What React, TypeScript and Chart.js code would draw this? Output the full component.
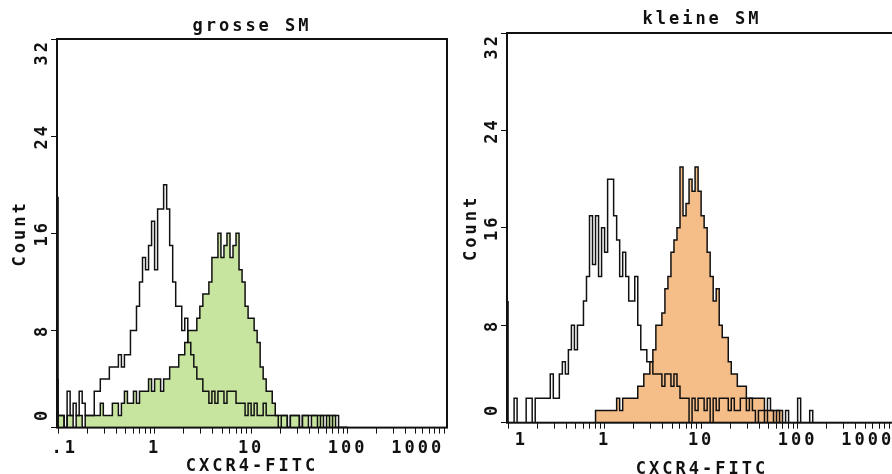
import React, { useEffect, useRef } from "react";
import { Chart, registerables } from "chart.js";

Chart.register(...registerables);

// ------------------------------------------------------------------
// Data
// ------------------------------------------------------------------
const CHANNELS_PER_DECADE = 32; // histogram bins per decade of the log axis
const FIRST_CHANNEL = 0.1; // left edge of bin 0
const X_MIN = 0.0975;
const X_MAX = 1070;

const DECADE_TICKS = [0.1, 1, 10, 100, 1000];
const MINOR_MULTIPLIERS = [1, 2, 3, 4, 5, 6, 7, 8, 9];
const LEFT_X_LABELS = [".1", "1", "10", "100", "1000"];
const RIGHT_X_LABELS = ["1", "1", "10", "100", "1000"];
const Y_TICKS = [0, 8, 16, 24, 32];
const Y_LABELS = ["0", "8", "16", "24", "32"];

const LEFT_TITLE = "grosse SM";
const RIGHT_TITLE = "kleine SM";
const X_TITLE = "CXCR4-FITC";
const Y_TITLE = "Count";

// left panel "grosse SM": isotype control (open) and CXCR4 (green filled)
const LEFT_CONTROL = [
  19, 1, 1, 0, 3, 1, 2, 1, 3, 2, 1, 1, 1, 3, 3, 4,
  4, 4, 5, 5, 5, 6, 5, 6, 6, 8, 8, 10, 12, 14, 13, 15,
  17, 13, 18, 18, 20, 18, 15, 12, 10, 10, 8, 9, 7, 6, 5, 4,
  4, 3, 3, 2, 3, 2, 3, 3, 2, 3, 3, 3, 2, 2, 2, 1,
  2, 1, 2, 1, 1, 2, 1, 1, 1, 1, 0, 1, 1, 0, 1, 1,
  1, 0, 1, 1, 1, 1, 1, 0, 1, 1, 1, 0, 1, 1, 0, 0,
];
const LEFT_STAINED = [
  4, 1, 1, 0, 1, 1, 0, 1, 1, 0, 1, 1, 1, 1, 1, 2,
  1, 1, 1, 2, 2, 1, 2, 3, 2, 2, 3, 2, 3, 3, 3, 4,
  3, 4, 4, 3, 4, 4, 5, 5, 5, 6, 6, 7, 8, 8, 8, 9,
  10, 11, 11, 12, 14, 14, 16, 14, 15, 16, 14, 15, 16, 13, 12, 10,
  9, 9, 8, 7, 5, 4, 3, 3, 2, 1, 1, 1, 1, 0, 1, 1,
  1, 0, 1, 1, 0, 1, 1, 1, 1, 0, 1, 1, 1, 0, 0, 0,
];

// right panel "kleine SM": isotype control (open) and CXCR4 (orange filled)
const RIGHT_CONTROL = [
  10, 0, 0, 2, 0, 0, 0, 2, 2, 0, 2, 2, 2, 2, 2, 4,
  2, 2, 4, 5, 4, 6, 8, 6, 8, 8, 10, 12, 17, 13, 17, 12,
  16, 14, 20, 20, 17, 15, 12, 14, 12, 10, 10, 12, 8, 6, 6, 5,
  5, 4, 4, 4, 3, 4, 4, 3, 4, 3, 2, 2, 2, 0, 2, 1,
  2, 2, 1, 2, 0, 2, 1, 2, 2, 2, 1, 2, 1, 1, 2, 2,
  1, 2, 1, 0, 1, 1, 0, 2, 1, 0, 1, 0, 0, 1, 0, 0,
  0, 2, 0, 0, 0, 1, 0, 0,
];
const RIGHT_STAINED = [
  0, 0, 0, 0, 0, 0, 0, 0, 0, 0, 0, 0, 0, 0, 0, 0,
  0, 0, 0, 0, 0, 0, 0, 0, 0, 0, 0, 0, 0, 0, 1, 1,
  1, 1, 1, 1, 1, 2, 1, 2, 2, 2, 2, 2, 3, 3, 4, 4,
  5, 6, 8, 8, 9, 11, 12, 14, 15, 16, 21, 17, 18, 20, 19, 21,
  19, 17, 16, 14, 12, 10, 11, 8, 7, 7, 5, 4, 4, 3, 3, 3,
  2, 2, 2, 2, 2, 2, 1, 1, 1, 1, 1, 1, 0, 0, 0, 0,
  0, 0, 0, 0, 0, 0, 0, 0,
];

// ------------------------------------------------------------------
// Styling / layout
// ------------------------------------------------------------------
const INK = "#111111";
const FONT_FAMILY = '"DejaVu Sans Mono", "Liberation Mono", monospace';
const FONT = { family: FONT_FAMILY, size: 17, weight: "bold" as const };
const CANVAS_W = 450;
const CANVAS_H = 474;

type PanelSpec = {
  title: string;
  xLabels: string[];
  xLabelPad: [number, number][];
  control: number[];
  stained: number[];
  fill: string;
  titleTop: number;
  titleBottom: number;
  xAxisHeight: number;
  xTickPadding: number;
  xTitlePadBottom: number;
  yTitlePadTop: number;
};

const Y_LABEL_PAD: [number, number][] = [
  [2, 0],
  [0, 0],
  [0, 0],
  [0, 0],
  [0, 2],
];

function padLabel(text: string, p: [number, number]) {
  return " ".repeat(p[0]) + text + " ".repeat(p[1]);
}

function binEdge(i: number) {
  return FIRST_CHANNEL * Math.pow(10, i / CHANNELS_PER_DECADE);
}

function toSteps(values: number[]) {
  const pts = [{ x: FIRST_CHANNEL, y: 0 }];
  values.forEach((v, i) => pts.push({ x: binEdge(i), y: v }));
  pts.push({ x: binEdge(values.length), y: 0 });
  return pts;
}

const X_TICK_VALUES = DECADE_TICKS.flatMap((d) =>
  MINOR_MULTIPLIERS.map((m) => m * d)
).filter((v) => v >= X_MIN && v <= X_MAX);

const spacingPlugin = {
  id: "monoSpacing",
  beforeUpdate(chart: any) {
    chart.ctx.letterSpacing = "3px";
  },
  beforeDraw(chart: any) {
    chart.ctx.letterSpacing = "3px";
  },
};

const framePlugin = {
  id: "frame",
  afterDatasetsDraw(chart: any) {
    const { ctx, chartArea } = chart;
    const { left, top, right, bottom } = chartArea;
    ctx.save();
    ctx.strokeStyle = INK;
    ctx.lineWidth = 2;
    ctx.strokeRect(left, top, right - left, bottom - top);
    ctx.restore();
  },
};

function buildConfig(p: PanelSpec): any {
  return {
    type: "line",
    data: {
      datasets: [
        {
          label: "control",
          data: toSteps(p.control),
          stepped: "after",
          borderColor: INK,
          borderWidth: 1.5,
          pointRadius: 0,
          fill: false,
        },
        {
          label: "CXCR4",
          data: toSteps(p.stained),
          stepped: "after",
          borderColor: INK,
          borderWidth: 1.5,
          pointRadius: 0,
          fill: "origin",
          backgroundColor: p.fill,
        },
      ],
    },
    options: {
      responsive: false,
      animation: false,
      layout: { padding: { left: 0, right: 3, top: 0, bottom: 0 } },
      plugins: {
        legend: { display: false },
        tooltip: { enabled: false },
        title: {
          display: true,
          text: p.title,
          fullSize: false,
          color: INK,
          font: { ...FONT, lineHeight: 1 },
          padding: { top: p.titleTop, bottom: p.titleBottom },
        },
      },
      scales: {
        x: {
          type: "logarithmic",
          min: X_MIN,
          max: X_MAX,
          afterBuildTicks(scale: any) {
            scale.ticks = X_TICK_VALUES.map((v) => ({ value: v }));
          },
          afterFit(scale: any) {
            scale.height = p.xAxisHeight;
            scale.paddingLeft = 0;
            scale.paddingRight = 0;
          },
          grid: {
            display: true,
            drawOnChartArea: false,
            drawTicks: true,
            tickLength: 6,
            color: INK,
            lineWidth: 1,
          },
          border: { display: false },
          ticks: {
            autoSkip: false,
            maxRotation: 0,
            minRotation: 0,
            padding: p.xTickPadding,
            color: INK,
            font: FONT,
            callback(value: number) {
              const k = DECADE_TICKS.findIndex(
                (d) => Math.abs(d - value) < d * 1e-6
              );
              return k >= 0 ? padLabel(p.xLabels[k], p.xLabelPad[k]) : "";
            },
          },
          title: {
            display: true,
            text: X_TITLE,
            color: INK,
            font: { ...FONT, lineHeight: 1 },
            padding: { top: 0, bottom: p.xTitlePadBottom },
          },
        },
        y: {
          type: "linear",
          min: 0,
          max: 32,
          afterBuildTicks(scale: any) {
            scale.ticks = Y_TICKS.map((v) => ({ value: v }));
          },
          afterFit(scale: any) {
            scale.width = 57;
            scale.paddingTop = 0;
            scale.paddingBottom = 0;
          },
          grid: {
            display: true,
            drawOnChartArea: false,
            drawTicks: true,
            tickLength: 6,
            color: INK,
            lineWidth: 1,
          },
          border: { display: false },
          ticks: {
            autoSkip: false,
            minRotation: 90,
            maxRotation: 90,
            crossAlign: "center",
            padding: -18,
            color: INK,
            font: FONT,
            callback(value: number) {
              const k = Y_TICKS.indexOf(value);
              return k >= 0 ? padLabel(Y_LABELS[k], Y_LABEL_PAD[k]) : "";
            },
          },
          title: {
            display: true,
            text: Y_TITLE,
            color: INK,
            font: { ...FONT, lineHeight: 1 },
            padding: { top: p.yTitlePadTop, bottom: 0 },
          },
        },
      },
    },
    plugins: [spacingPlugin, framePlugin],
  };
}

const LEFT_PANEL: PanelSpec = {
  title: LEFT_TITLE,
  xLabels: LEFT_X_LABELS,
  xLabelPad: [
    [1, 0],
    [0, 0],
    [0, 0],
    [0, 0],
    [0, 4],
  ],
  control: LEFT_CONTROL,
  stained: LEFT_STAINED,
  fill: "#c8e5a0",
  titleTop: 18,
  titleBottom: 4,
  xAxisHeight: 46.4,
  xTickPadding: 4.9,
  xTitlePadBottom: -1,
  yTitlePadTop: 12.5,
};

const RIGHT_PANEL: PanelSpec = {
  title: RIGHT_TITLE,
  xLabels: RIGHT_X_LABELS,
  xLabelPad: [
    [2, 0],
    [0, 0],
    [0, 0],
    [0, 0],
    [0, 4],
  ],
  control: RIGHT_CONTROL,
  stained: RIGHT_STAINED,
  fill: "#f5be88",
  titleTop: 11,
  titleBottom: 5,
  xAxisHeight: 51.3,
  xTickPadding: 1.3,
  xTitlePadBottom: -4.5,
  yTitlePadTop: 13.5,
};

function Panel({ spec, left }: { spec: PanelSpec; left: number }) {
  const ref = useRef<HTMLCanvasElement | null>(null);
  useEffect(() => {
    if (!ref.current) return;
    const chart = new Chart(ref.current, buildConfig(spec));
    return () => chart.destroy();
  }, [spec]);
  return (
    <canvas
      ref={ref}
      width={CANVAS_W}
      height={CANVAS_H}
      style={{
        position: "absolute",
        left,
        top: 0,
        width: CANVAS_W,
        height: CANVAS_H,
      }}
    />
  );
}

export default function App() {
  return (
    <div
      style={{
        position: "fixed",
        left: 0,
        top: 0,
        width: 892,
        height: 474,
        overflow: "hidden",
        background: "#ffffff",
      }}
    >
      <Panel spec={LEFT_PANEL} left={0} />
      <Panel spec={RIGHT_PANEL} left={450} />
    </div>
  );
}
